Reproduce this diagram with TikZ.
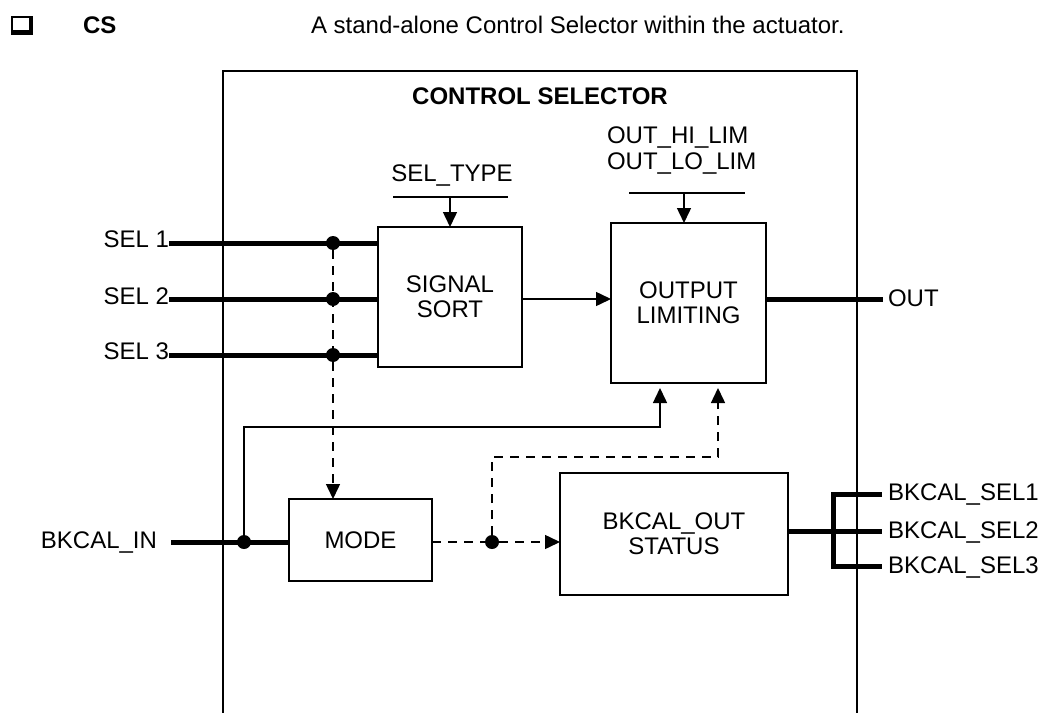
\documentclass[tikz,border=0pt]{standalone}
\usepackage{fontspec}
\setmainfont{Liberation Sans}
\usetikzlibrary{arrows.meta}
\begin{document}
\begin{tikzpicture}[x=0.75pt,y=-0.75pt,
  every node/.style={font=\fontsize{18}{18.75}\selectfont, inner sep=0pt, outer sep=0pt},
  blk/.style={draw, line width=1.1pt, align=center},
  fline/.style={line width=1.1pt},
  bline/.style={line width=3.75pt},
  dline/.style={line width=1.1pt, dash pattern=on 6.75pt off 5.25pt},
  tip/.style={-{Triangle[length=11.25pt,width=10.5pt]}},
  dot/.style={circle, fill, minimum size=10.5pt}
]
\useasboundingbox (0,0) rectangle (1041,713);

% header
\draw[line width=1.1pt] (12,17) rectangle (31,33);
\fill (11.4,30.5) rectangle (32.5,34.6);
\fill (29,16.4) rectangle (32.5,34.6);
\node[anchor=base west] (cs) at (83,34) {\bfseries CS};
\node[anchor=base west] (desc) at (311,34) {A stand-alone Control Selector within the actuator.};

% frame
\draw[line width=1.1pt] (223,725) -- (223,71) -- (857,71) -- (857,725);
\node[anchor=base] (title) at (540,105) {\bfseries CONTROL SELECTOR};

% blocks
\node[blk, minimum width=108pt, minimum height=105pt] (ss) at (450,297) {SIGNAL\\SORT};
\node[blk, minimum width=116.25pt, minimum height=120pt] (ol) at (688.5,303) {OUTPUT\\LIMITING};
\node[blk, minimum width=107.25pt, minimum height=61.5pt] (mode) at (360.5,540) {MODE};
\node[blk, minimum width=171pt, minimum height=91.5pt] (bk) at (674,534) {BKCAL\_OUT\\STATUS};

% labels
\node[anchor=base] (seltype) at (452,181) {SEL\_TYPE};
\node[anchor=base west] (lim1) at (607,144) {OUT\_HI\_LIM};
\node[anchor=base west] (lim2) at (607,170) {OUT\_LO\_LIM};
\node[anchor=base east] (sel1) at (169,247) {SEL 1};
\node[anchor=base east] (sel2) at (169,304) {SEL 2};
\node[anchor=base east] (sel3) at (169,359) {SEL 3};
\node[anchor=base east] (bkin) at (157,548) {BKCAL\_IN};
\node[anchor=base west] (out) at (888,306) {OUT};
\node[anchor=base west] (bs1) at (888,500) {BKCAL\_SEL1};
\node[anchor=base west] (bs2) at (888,538) {BKCAL\_SEL2};
\node[anchor=base west] (bs3) at (888,573) {BKCAL\_SEL3};

% junction dots
\node[dot] (d1) at (333,243) {};
\node[dot] (d2) at (333,299) {};
\node[dot] (d3) at (333,355) {};
\node[dot] (din) at (244,542) {};
\node[dot] (dm) at (492,542) {};

% helper coordinates
\coordinate (inS) at (171,542);
\coordinate (fb) at (660,427);
\coordinate (dl) at (718,457);
\coordinate (stL) at (393,197);
\coordinate (stR) at (508,197);
\coordinate (lmL) at (629,193);
\coordinate (lmR) at (745,193);
\coordinate (lmA) at (684,193);
\coordinate (b1) at (833,494);
\coordinate (b2) at (833,531);
\coordinate (b3) at (833,566);

% inputs
\draw[bline] (sel1.east |- d1) -- (ss.west |- d1);
\draw[bline] (sel2.east |- d2) -- (ss.west |- d2);
\draw[bline] (sel3.east |- d3) -- (ss.west |- d3);
\draw[dline, tip] (d1) -- (mode.north -| d1);

% parameters
\draw[fline] (stL) -- (stR);
\draw[fline, tip] (ss.north |- stL) -- (ss.north);
\draw[fline] (lmL) -- (lmR);
\draw[fline, tip] (lmA) -- (ol.north -| lmA);

% main path
\draw[fline, tip] (ss.east |- d2) -- (ol.west |- d2);
\draw[bline, shorten >=3.75pt] (ol.east |- d2) -- (out.west |- d2);

% backcalculation
\draw[bline] (inS) -- (mode.west |- inS);
\draw[fline, tip, shorten >=3.75pt] (din) |- (fb) -- (ol.south -| fb);
\draw[dline] (mode.east |- dm) -- (dm);
\draw[dline, tip] (dm) -- (bk.west |- dm);
\draw[dline, tip, shorten >=3.75pt] (dm) |- (dl) -- (ol.south -| dl);

% outputs
\draw[bline] (bk.east |- b2) -- (b2);
\draw[bline, line join=miter, shorten <=4.5pt, shorten >=4.5pt] (bs1.west |- b1) -- (b1) -- (b3) -- (bs3.west |- b3);
\draw[bline, shorten >=4.5pt] (b2) -- (bs2.west |- b2);
\end{tikzpicture}
\end{document}
